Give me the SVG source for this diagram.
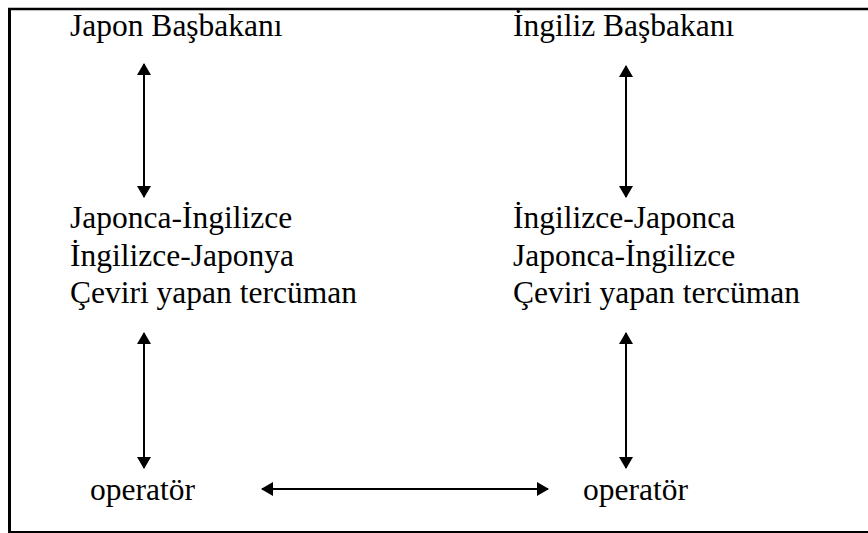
<svg xmlns="http://www.w3.org/2000/svg" width="868" height="533" viewBox="0 0 868 533">
  <style>
    .t { font-family: 'Liberation Serif', 'Times New Roman', serif; font-size: 31.5px; fill: #000; }
    .c { stroke: #000; stroke-width: 2; fill: none; marker-start: url(#ah); marker-end: url(#ah); }
    .frame { stroke: #000; fill: none; }
  </style>
  <defs>
    <marker id="ah" markerUnits="userSpaceOnUse" markerWidth="14" markerHeight="14" viewBox="0 0 12 14" refX="11" refY="7" orient="auto-start-reverse">
      <path d="M0,0 L12,7 L0,14 Z" fill="#000"/>
    </marker>
  </defs>

  <!-- border (top, left, bottom) -->
  <g id="frame">
    <line class="frame" x1="8" y1="9" x2="868" y2="9" stroke-width="2.5"/>
    <line class="frame" x1="9.5" y1="8" x2="9.5" y2="533" stroke-width="3"/>
    <line class="frame" x1="8" y1="532" x2="868" y2="532" stroke-width="2"/>
  </g>

  <g id="japon-basbakani">
    <text class="t" x="70" y="36">Japon Başbakanı</text>
  </g>
  <g id="ingiliz-basbakani">
    <text class="t" x="513" y="36">İngiliz Başbakanı</text>
  </g>
  <g id="japon-tercuman">
    <text class="t" x="70" y="228">Japonca-İngilizce</text>
    <text class="t" x="70" y="266">İngilizce-Japonya</text>
    <text class="t" x="70" y="303">Çeviri yapan tercüman</text>
  </g>
  <g id="ingiliz-tercuman">
    <text class="t" x="513" y="228">İngilizce-Japonca</text>
    <text class="t" x="513" y="266">Japonca-İngilizce</text>
    <text class="t" x="513" y="303">Çeviri yapan tercüman</text>
  </g>
  <g id="operator-sol">
    <text class="t" x="90" y="500">operatör</text>
  </g>
  <g id="operator-sag">
    <text class="t" x="583" y="500">operatör</text>
  </g>

  <g id="connectors">
    <line class="c" x1="144" y1="64" x2="144" y2="197"/>
    <line class="c" x1="626" y1="66" x2="626" y2="197"/>
    <line class="c" x1="144" y1="333" x2="144" y2="468"/>
    <line class="c" x1="626" y1="333" x2="626" y2="468"/>
    <line class="c" x1="262" y1="489" x2="548" y2="489"/>
  </g>
</svg>
